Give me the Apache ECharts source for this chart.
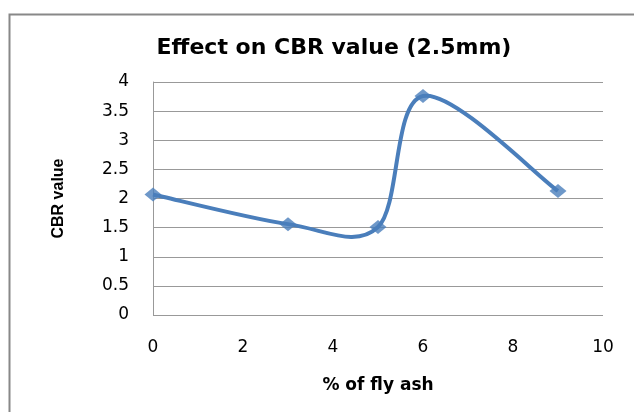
<!DOCTYPE html>
<html>
<head>
<meta charset="utf-8">
<script src="https://cdn.jsdelivr.net/npm/echarts@6/dist/echarts.min.js"></script>
<style>
  html, body { margin: 0; padding: 0; background: #fff; }
  #chart { width: 634px; height: 412px; }
</style>
</head>
<body>
<div id="chart"></div>
<script>
// % of fly ash vs CBR value
const flyAsh = [0, 3, 5, 6, 9]
const cbrValues = [2.07, 1.56, 1.51, 3.76, 2.13]

const chart = echarts.init(document.getElementById('chart'))
const font = 'DejaVu Sans'
const blue = '#4A7EBB'

// excel-like smoothed line (catmull-rom with 1/6 tension), drawn in pixel space
function renderCurve(params, api) {
  if (params.dataIndex !== 0) return
  const pts = flyAsh.map((x, i) => api.coord([x, cbrValues[i]]))
  let d = 'M' + pts[0][0] + ' ' + pts[0][1]
  for (let i = 0; i < pts.length - 1; i++) {
    const p0 = pts[Math.max(i - 1, 0)]
    const p1 = pts[i]
    const p2 = pts[i + 1]
    const p3 = pts[Math.min(i + 2, pts.length - 1)]
    const c1 = [p1[0] + (p2[0] - p0[0]) / 6, p1[1] + (p2[1] - p0[1]) / 6]
    const c2 = [p2[0] - (p3[0] - p1[0]) / 6, p2[1] - (p3[1] - p1[1]) / 6]
    d += ' C' + c1.join(' ') + ' ' + c2.join(' ') + ' ' + p2.join(' ')
  }
  return {
    type: 'path',
    shape: { pathData: d },
    style: { fill: 'none', stroke: blue, lineWidth: 4, lineJoin: 'round' }
  }
}

chart.setOption({
  backgroundColor: '#fff',
  animation: false,
  graphic: [
    {
      // outer chart frame
      type: 'rect',
      shape: { x: 9.5, y: 14.5, width: 640, height: 420 },
      style: { fill: 'none', stroke: '#888', lineWidth: 2 }
    }
  ],
  title: {
    text: 'Effect on CBR value (2.5mm)',
    left: 329,
    textAlign: 'center',
    top: 32,
    textStyle: { fontFamily: font, fontSize: 22, fontWeight: 'bold', color: '#000' }
  },
  grid: { left: 153, right: 31, top: 82, bottom: 97 },
  xAxis: {
    type: 'value',
    min: 0,
    max: 10,
    interval: 2,
    name: '% of fly ash',
    nameLocation: 'middle',
    nameGap: 62,
    nameTextStyle: { fontFamily: font, fontSize: 17, fontWeight: 'bold', color: '#000' },
    axisLine: { show: false },
    axisTick: { show: false },
    splitLine: { show: false },
    axisLabel: { fontFamily: font, fontSize: 17, color: '#000', margin: 24 }
  },
  yAxis: {
    type: 'value',
    min: 0,
    max: 4,
    interval: 0.5,
    name: 'CBR value',
    nameLocation: 'middle',
    nameGap: 86,
    nameTextStyle: { fontFamily: 'Liberation Sans', fontSize: 16, fontWeight: 'bold', color: '#000' },
    axisLine: { show: true, lineStyle: { color: '#999', width: 1 } },
    axisTick: { show: false },
    splitLine: { lineStyle: { color: '#999', width: 1 } },
    axisLabel: { fontFamily: font, fontSize: 17, color: '#000', margin: 24 }
  },
  series: [
    {
      type: 'custom',
      renderItem: renderCurve,
      data: flyAsh.map((x, i) => [x, cbrValues[i]]),
      z: 2
    },
    {
      type: 'scatter',
      data: flyAsh.map((x, i) => [x, cbrValues[i]]),
      symbol: 'diamond',
      symbolSize: [17, 14],
      itemStyle: { color: blue },
      z: 3
    }
  ]
})
</script>
</body>
</html>
